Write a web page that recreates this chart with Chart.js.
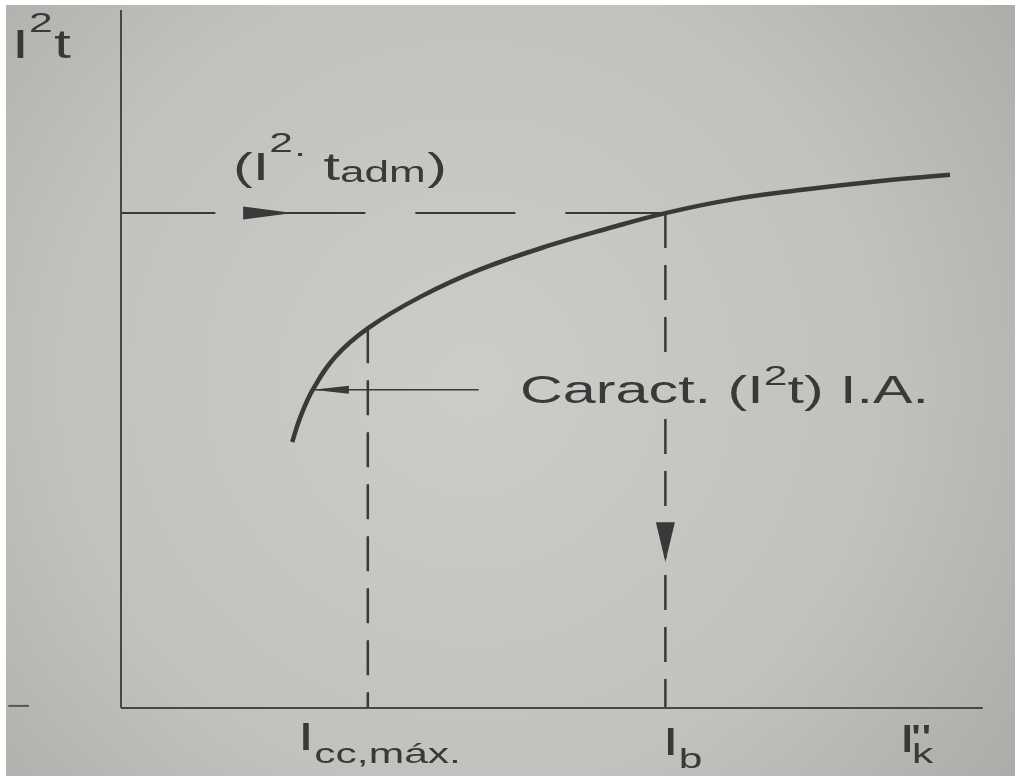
<!DOCTYPE html>
<html>
<head>
<meta charset="utf-8">
<script src="https://cdn.jsdelivr.net/npm/chart.js@4/dist/chart.umd.min.js"></script>
<style>
  html, body { margin: 0; padding: 0; background: #fff; overflow: hidden; }
  canvas { display: block; }
</style>
</head>
<body>
<canvas id="c" width="1017" height="778"></canvas>
<script>
// I²t let-through characteristic of the protective device versus short-circuit current
const curveX = [19.9, 20.8, 22.3, 24.9, 28.7, 34.8, 41.7, 49.9, 56.9, 63.3, 70.8, 79.0, 88.3, 96.4];
const curveY = [38.1, 41.5, 45.6, 50.3, 54.4, 58.9, 62.8, 66.3, 68.8, 70.9, 72.8, 74.2, 75.5, 76.4];

// reference currents on the x axis
const iccMax = 28.7;   // I cc,máx.
const iccMaxI2t = 54.4;
const ib = 63.3;       // I b
const ikX = 90.7;      // I''k label position

// admissible I²t level of the cable
const admI2t = 70.9;

// pointer from the "Caract." label to the curve
const pointerY = 45.6;
const pointerX = [22.3, 41.6];

// gap in the I b line where the label crosses it
const ibBreak = [51.0, 41.4];

const INK = '#393939';
const FONT = '"Liberation Sans", Arial, Helvetica, sans-serif';
const SX = 1.52; // horizontal stretch of lettering

const curve = curveX.map((x, i) => ({ x, y: curveY[i] }));

const seg = (pts, extra) => Object.assign({
  data: pts, showLine: true, pointRadius: 0, pointHoverRadius: 0,
  borderColor: INK, borderWidth: 2, clip: false, tension: 0, fill: false
}, extra);

// paper background with a soft falloff towards the corners
const paper = {
  id: 'paper',
  beforeDraw(chart) {
    const ctx = chart.ctx;
    ctx.save();
    ctx.fillStyle = '#ffffff';
    ctx.fillRect(0, 0, chart.width, chart.height);
    const g = ctx.createRadialGradient(470, 380, 40, 470, 380, 720);
    g.addColorStop(0, '#cbccc8');
    g.addColorStop(0.55, '#c1c2be');
    g.addColorStop(1, '#a8a9a5');
    ctx.fillStyle = g;
    ctx.fillRect(6, 5, chart.width - 8, chart.height - 7);
    ctx.restore();
  }
};

function tri(ctx, a, b, c) {
  ctx.beginPath();
  ctx.moveTo(a[0], a[1]); ctx.lineTo(b[0], b[1]); ctx.lineTo(c[0], c[1]);
  ctx.closePath(); ctx.fill();
}

// text runs: parts drawn one after another, with font size and baseline shift
function drawRun(ctx, x, y, parts) {
  ctx.save();
  ctx.translate(x, y);
  ctx.scale(SX, 1);
  ctx.fillStyle = INK;
  ctx.textBaseline = 'alphabetic';
  let cx = 0;
  for (const p of parts) {
    ctx.font = p.size + 'px ' + FONT;
    if (p.at !== undefined) cx = p.at / SX;
    cx += (p.dx || 0);
    ctx.fillText(p.t, cx, p.dy || 0);
    cx += ctx.measureText(p.t).width;
  }
  ctx.restore();
}

const overlay = {
  id: 'overlay',
  afterDatasetsDraw(chart) {
    const ctx = chart.ctx;
    const xs = chart.scales.x, ys = chart.scales.y;
    const X = v => xs.getPixelForValue(v), Y = v => ys.getPixelForValue(v);
    ctx.save();
    ctx.fillStyle = INK;
    // arrow along the admissible level, pointing towards the curve
    const ay = Y(admI2t);
    tri(ctx, [X(14.2), ay - 6.5], [X(14.2), ay + 6.5], [X(20), ay]);
    // arrow down the I b line
    const bx = X(ib);
    tri(ctx, [bx - 9.5, Y(26.6)], [bx + 9.5, Y(26.6)], [bx, Y(20.9)]);
    // arrow from the label to the curve
    const py = Y(pointerY);
    tri(ctx, [X(26.5), py - 4], [X(26.5), py + 4], [X(pointerX[0]), py]);
    ctx.restore();

    // axis titles and reference currents
    drawRun(ctx, 12, 58, [{ t: 'I', size: 40 }, { t: '2', size: 28, dy: -26, dx: 0 }, { t: 't', size: 40, dx: 1 }]);
    drawRun(ctx, X(iccMax) - 70, 750, [{ t: 'I', size: 39 }, { t: 'cc,máx.', size: 28, dy: 13, dx: 0 }]);
    drawRun(ctx, X(ib) - 3, 755, [{ t: 'I', size: 39 }, { t: 'b', size: 28, dy: 13, dx: 0 }]);
    drawRun(ctx, X(ikX) - 2, 752, [{ t: 'I', size: 39 }, { t: '"', size: 38, at: 12 },
      { t: 'k', size: 28, dy: 11, at: 13 }]);

    // annotations
    drawRun(ctx, 233, 180, [{ t: '(I', size: 39 }, { t: '2', size: 28, dy: -28 }, { t: '·', size: 28, dy: -18 },
      { t: ' t', size: 39 }, { t: 'adm', size: 29, dy: 2 }, { t: ')', size: 39, dx: 1 }]);
    drawRun(ctx, 520, 403, [{ t: 'Caract. (I', size: 39 }, { t: '2', size: 28, dy: -18 },
      { t: 't) I.A.', size: 39 }]);
  }
};

new Chart(document.getElementById('c'), {
  type: 'scatter',
  data: {
    datasets: [
      seg([{ x: 0, y: 0 }, { x: 0, y: 100 }], { borderColor: '#474747' }),
      seg([{ x: 0, y: 0 }, { x: 100.2, y: 0 }], { borderColor: '#474747' }),
      seg([{ x: -13.1, y: 0.3 }, { x: -10.7, y: 0.3 }], { borderColor: '#555555' }),
      seg(curve, { borderWidth: 4.5, tension: 0.4, borderCapStyle: 'butt' }),
      seg([{ x: ib, y: admI2t }, { x: 0, y: admI2t }], { borderDash: [100, 50], borderWidth: 2 }),
      seg([{ x: ib, y: admI2t }, { x: ib, y: ibBreak[0] }], { borderDash: [35, 17], borderWidth: 2.5 }),
      seg([{ x: ib, y: ibBreak[1] }, { x: ib, y: 0 }], { borderDash: [35, 17], borderWidth: 2.5 }),
      seg([{ x: iccMax, y: iccMaxI2t }, { x: iccMax, y: 0 }], { borderDash: [35, 17], borderWidth: 2.5 }),
      seg([{ x: pointerX[0], y: pointerY }, { x: pointerX[1], y: pointerY }], { borderWidth: 1.5 })
    ]
  },
  options: {
    responsive: false,
    animation: false,
    events: [],
    layout: { padding: { left: 121, right: 36, top: 10, bottom: 70 } },
    plugins: { legend: { display: false }, tooltip: { enabled: false } },
    scales: {
      x: { type: 'linear', min: 0, max: 100, display: false },
      y: { type: 'linear', min: 0, max: 100, display: false }
    }
  },
  plugins: [paper, overlay]
});
</script>
</body>
</html>
